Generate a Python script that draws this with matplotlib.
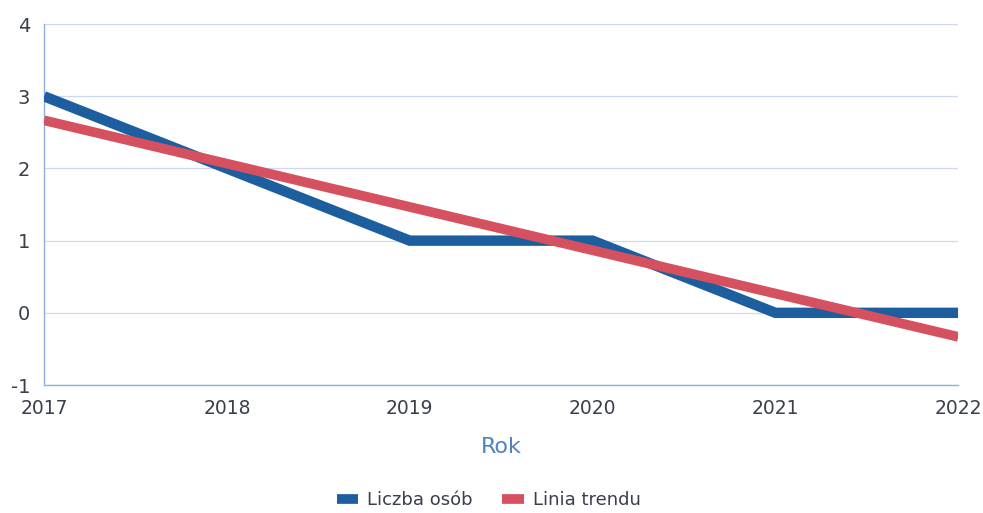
import matplotlib
matplotlib.use("Agg")
import matplotlib.pyplot as plt
from matplotlib.lines import Line2D

years = [2017, 2018, 2019, 2020, 2021, 2022]
liczba_osob = [3, 2, 1, 1, 0, 0]
linia_trendu = [2.667, 2.067, 1.467, 0.867, 0.267, -0.333]
y_ticks = [-1, 0, 1, 2, 3, 4]

blue = "#1d5e9e"
red = "#d6515f"
text_col = "#3a3f4a"
grid_col = "#cfd8ee"
spine_col = "#8fb0dc"

plt.rcParams['font.family'] = ['DejaVu Sans']

fig = plt.figure(figsize=(9.83, 5.13), dpi=100)
ax = fig.add_axes([0.0448, 0.2495, 0.93, 0.7035])

ax.plot(years, liczba_osob, color=blue, lw=7.5, solid_capstyle='butt',
        solid_joinstyle='miter', zorder=3, clip_on=True)
ax.plot(years, linia_trendu, color=red, lw=7, solid_capstyle='butt', zorder=4)

ax.set_xlim(2017, 2022)
ax.set_ylim(-1, 4)
ax.set_yticks(y_ticks)
ax.set_xticks(years)
ax.set_yticklabels([str(v) for v in y_ticks])
ax.grid(axis='y', color=grid_col, lw=0.9)
ax.set_axisbelow(True)
for s in ['top', 'right']:
    ax.spines[s].set_visible(False)
for s in ['left', 'bottom']:
    ax.spines[s].set_color(spine_col)
    ax.spines[s].set_linewidth(1.0)
ax.tick_params(axis='both', length=0, colors=text_col)
ax.tick_params(axis='y', pad=10, labelsize=14)
ax.tick_params(axis='x', pad=10, labelsize=13.5)

ax.set_xlabel("Rok", fontsize=16, color="#4f82c2", labelpad=14)

handles = [Line2D([0], [0], color=blue, lw=7, solid_capstyle='butt'),
           Line2D([0], [0], color=red, lw=7, solid_capstyle='butt')]
fig.legend(handles, ["Liczba osób", "Linia trendu"], loc='center',
           bbox_to_anchor=(0.497, 0.025), ncol=2, frameon=False,
           fontsize=13, handlelength=1.2, columnspacing=1.6, handletextpad=0.5,
           labelcolor=text_col)

fig.savefig("out.png", dpi=100, facecolor='white')
